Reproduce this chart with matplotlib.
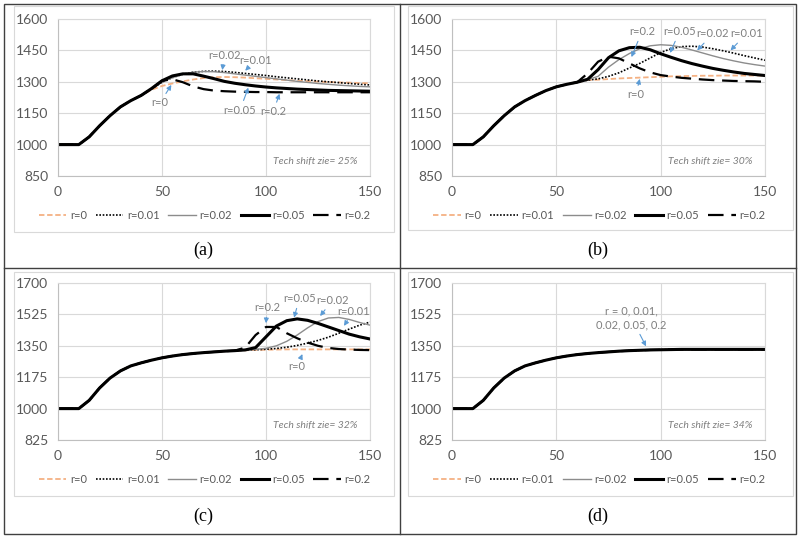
import matplotlib
matplotlib.use("Agg")
import matplotlib.pyplot as plt
from matplotlib.lines import Line2D
from matplotlib.patches import Rectangle

# time axis (every 5 steps)
x = list(range(0, 155, 5))

# common rising part before the tech shift, panels (a) and (b)  (x = 0..60)
base_ab = [1000, 1000, 1000, 1037, 1090, 1138, 1180, 1210, 1235, 1258, 1276, 1288, 1298]
# common curve for panels (c) and (d)  (x = 0..150)
base_cd = [1000, 1000, 1000, 1046, 1115, 1170, 1210, 1238, 1255, 1270, 1283, 1293, 1301,
           1307, 1312, 1316, 1320, 1323, 1325, 1327, 1328, 1329, 1330, 1330, 1330, 1330,
           1330, 1330, 1330, 1330, 1330]

# panel (a), x = 45..150
a_r0 = [1262, 1280, 1292, 1302, 1311, 1318, 1322, 1323, 1322, 1320, 1317, 1314, 1311, 1308,
        1305, 1303, 1301, 1299, 1297, 1296, 1294, 1293]
a_r001 = [1266, 1298, 1320, 1336, 1346, 1350, 1351, 1349, 1345, 1340, 1335, 1330, 1324, 1319,
          1314, 1309, 1304, 1300, 1296, 1292, 1288, 1285]
a_r002 = [1266, 1298, 1320, 1336, 1346, 1349, 1348, 1344, 1338, 1332, 1326, 1320, 1314, 1308,
          1302, 1297, 1292, 1288, 1284, 1281, 1278, 1276]
a_r005 = [1268, 1305, 1328, 1338, 1338, 1327, 1315, 1302, 1293, 1286, 1280, 1275, 1271, 1268,
          1265, 1263, 1261, 1259, 1258, 1257, 1256, 1255]
a_r02 = [1268, 1305, 1312, 1298, 1278, 1265, 1258, 1255, 1253, 1252, 1251, 1251, 1250, 1250,
         1250, 1250, 1250, 1250, 1250, 1250, 1250, 1250]

# panel (b), x = 65..150
b_r0 = [1308, 1310, 1313, 1316, 1318, 1320, 1322, 1324, 1326, 1327, 1328, 1329, 1329, 1330,
        1330, 1330, 1330, 1330]
b_r001 = [1308, 1314, 1326, 1343, 1366, 1388, 1414, 1440, 1458, 1468, 1470, 1466, 1458, 1448,
          1437, 1425, 1414, 1403]
b_r002 = [1310, 1326, 1370, 1406, 1435, 1458, 1472, 1477, 1474, 1465, 1452, 1438, 1424, 1411,
          1400, 1390, 1382, 1375]
b_r005 = [1312, 1358, 1415, 1448, 1463, 1465, 1453, 1434, 1417, 1401, 1387, 1375, 1364, 1355,
          1347, 1340, 1335, 1330]
b_r02 = [1340, 1396, 1420, 1412, 1388, 1364, 1345, 1332, 1325, 1319, 1315, 1311, 1308, 1306,
         1304, 1303, 1302, 1300]

# panel (c), x = 90..150
c_r0 = [1325, 1327, 1328, 1329, 1330, 1330, 1330, 1330, 1330, 1330, 1330, 1330, 1330]
c_r001 = [1326, 1328, 1331, 1335, 1342, 1352, 1365, 1380, 1398, 1420, 1443, 1465, 1482]
c_r002 = [1326, 1330, 1336, 1350, 1375, 1410, 1450, 1485, 1505, 1508, 1497, 1480, 1465]
c_r005 = [1327, 1340, 1400, 1460, 1490, 1500, 1492, 1475, 1455, 1435, 1415, 1400, 1388]
c_r02 = [1340, 1410, 1455, 1455, 1420, 1392, 1368, 1350, 1338, 1332, 1329, 1327, 1326]

labels = ["r=0", "r=0.01", "r=0.02", "r=0.05", "r=0.2"]

panel_a = [base_ab[:9] + s for s in (a_r0, a_r001, a_r002, a_r005, a_r02)]
panel_b = [base_ab + s for s in (b_r0, b_r001, b_r002, b_r005, b_r02)]
panel_c = [base_cd[:18] + s for s in (c_r0, c_r001, c_r002, c_r005, c_r02)]
panel_d = [base_cd] * 5

# (text, text position, arrow head) in data coords
notes_a = [("r=0.02", (80, 1428), (79, 1356)), ("r=0.01", (95, 1404), (90, 1353)),
           ("r=0", (49, 1199), (54.5, 1285)), ("r=0.05", (87.5, 1165), (91.5, 1272)),
           ("r=0.2", (103.5, 1157), (106.5, 1243))]
notes_b = [("r=0.2", (91, 1539), (86, 1418)), ("r=0.05", (109, 1539), (104.5, 1438)),
           ("r=0.02", (125, 1529), (117.5, 1450)), ("r=0.01", (141, 1529), (133.5, 1450)),
           ("r=0", (88, 1237), (90, 1314))]
notes_c = [("r=0.2", (100.5, 1562), (100, 1476)), ("r=0.05", (116, 1612), (113.5, 1507)),
           ("r=0.02", (132, 1603), (126, 1516)), ("r=0.01", (142, 1543), (137.5, 1461)),
           ("r=0", (115, 1236), (117.5, 1304))]
notes_d = [("r = 0, 0.01,\n0.02, 0.05, 0.2", (86, 1505), (93, 1347))]

styles = [
    dict(color="#F4B183", lw=1.3, ls=(0, (3, 1.5))),
    dict(color="black", lw=1.2, ls=(0, (1, 1))),
    dict(color="#8C8C8C", lw=1.0, ls="-"),
    dict(color="black", lw=2.2, ls="-"),
    dict(color="black", lw=1.6, ls=(0, (7, 3.5))),
]

txt_gray = "#7F7F7F"
tick_gray = "#595959"
arrow_blue = "#5B9BD5"

fig = plt.figure(figsize=(8, 5.38), dpi=100)
W, H = 800.0, 538.0


def draw_panel(rect, series, ylim, yticks, note, notes, letter, letter_y):
    ax = fig.add_axes(rect)
    for s, st, lab in zip(series, styles, labels):
        ax.plot(x, s, label=lab, **st)
    ax.set_xlim(0, 150)
    ax.set_ylim(*ylim)
    ax.set_xticks([0, 50, 100, 150])
    ax.set_yticks(yticks)
    ax.grid(True, color="#D9D9D9", lw=0.8)
    ax.set_axisbelow(True)
    for side in ax.spines:
        ax.spines[side].set_color("#D9D9D9")
        ax.spines[side].set_linewidth(0.8)
    ax.spines["left"].set_color("#BFBFBF")
    ax.spines["bottom"].set_color("#BFBFBF")
    ax.tick_params(length=0, labelsize=10, colors=tick_gray, pad=7)
    for lab in ax.get_xticklabels() + ax.get_yticklabels():
        lab.set_family("Lato")
    ax.text(0.96, 0.09, note, transform=ax.transAxes, ha="right", va="center",
            fontsize=7.5, style="italic", color=txt_gray, family="Lato")
    for t, tp, hp in notes:
        ax.annotate(t, xy=hp, xytext=tp, ha="center", va="center", fontsize=8,
                    color=txt_gray, family="Lato", linespacing=1.3,
                    arrowprops=dict(arrowstyle="-|>", color=arrow_blue, lw=0.8,
                                    mutation_scale=7, shrinkA=1, shrinkB=0))
    leg = ax.legend(loc="center", bbox_to_anchor=(0.47, -0.25), ncol=5, frameon=False,
                    handlelength=2.5, handletextpad=0.3, columnspacing=0.8,
                    prop={"family": "Lato", "size": 8})
    for t in leg.get_texts():
        t.set_color(tick_gray)
    cx = rect[0] + rect[2] * 0.465
    fig.text(cx, letter_y, letter, ha="center", va="center", fontsize=13,
             family="Liberation Serif")
    return ax


draw_panel([58 / W, 1 - 176 / H, 312 / W, 157 / H], panel_a, (850, 1600),
           [850, 1000, 1150, 1300, 1450, 1600], "Tech shift zie= 25%", notes_a, "(a)",
           1 - 250 / H)
draw_panel([452 / W, 1 - 176 / H, 313 / W, 157 / H], panel_b, (850, 1600),
           [850, 1000, 1150, 1300, 1450, 1600], "Tech shift zie= 30%", notes_b, "(b)",
           1 - 250 / H)
draw_panel([58 / W, 1 - 440 / H, 312 / W, 157 / H], panel_c, (825, 1700),
           [825, 1000, 1175, 1350, 1525, 1700], "Tech shift zie= 32%", notes_c, "(c)",
           1 - 516 / H)
draw_panel([452 / W, 1 - 440 / H, 313 / W, 157 / H], panel_d, (825, 1700),
           [825, 1000, 1175, 1350, 1525, 1700], "Tech shift zie= 34%", notes_d, "(d)",
           1 - 516 / H)

# light chart-area frames
for (l, t, r, b) in [(14, 6, 394, 232), (408, 6, 793, 230), (14, 272, 394, 496), (408, 272, 793, 496)]:
    fig.patches.append(Rectangle((l / W, 1 - b / H), (r - l) / W, (b - t) / H,
                                 transform=fig.transFigure, fill=False,
                                 edgecolor="#D9D9D9", lw=0.8))

# outer table borders
fig.patches.append(Rectangle((4 / W, 4 / H), 792 / W, 530 / H, transform=fig.transFigure,
                             fill=False, edgecolor="#404040", lw=1.0))
fig.lines.append(Line2D([400 / W, 400 / W], [4 / H, 534 / H], transform=fig.transFigure,
                        color="#404040", lw=1.0))
fig.lines.append(Line2D([4 / W, 796 / W], [1 - 268 / H, 1 - 268 / H],
                        transform=fig.transFigure, color="#404040", lw=1.0))

fig.savefig("out.png", dpi=100)
